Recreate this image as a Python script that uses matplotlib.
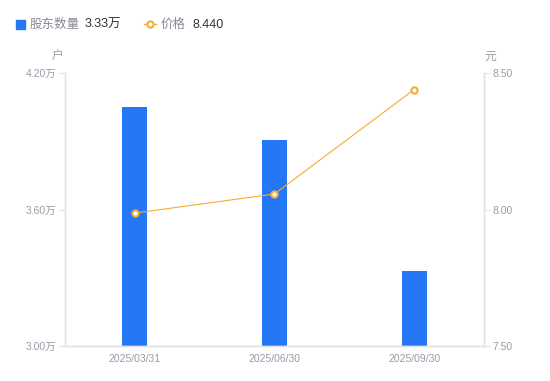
import matplotlib.pyplot as plt
import numpy as np

plt.rcParams['font.family'] = ['Liberation Sans', 'Noto Sans CJK SC']

dates = ['2025/03/31', '2025/06/30', '2025/09/30']
holders = [4.05, 3.905, 3.33]   # 万户
price = [7.987, 8.057, 8.440]   # 元

BLUE = '#2477f5'
ORANGE = '#f5ad2f'
GRID = '#e3e3e8'
LABEL = '#9a9aa8'

fig = plt.figure(figsize=(5.5, 3.81), dpi=100)
ax = fig.add_axes([0.118, 0.092, 0.762, 0.716])
ax2 = ax.twinx()

x = np.arange(len(dates))
ax.bar(x, holders, width=0.18, color=BLUE, zorder=2)
ax.set_xlim(-0.5, len(dates) - 0.5)
ax.set_ylim(3.0, 4.2)
ax.set_yticks([3.0, 3.6, 4.2])
ax.set_yticklabels([f'{v:.2f}万' for v in [3.0, 3.6, 4.2]])
ax.set_xticks(x)
ax.set_xticklabels(dates)

ax2.plot(x, price, color=ORANGE, lw=0.8, marker='o', ms=4.5,
         mfc='white', mec=ORANGE, mew=1.5, zorder=3)
ax2.set_ylim(7.5, 8.5)
ax2.set_yticks([7.5, 8.0, 8.5])
ax2.set_yticklabels([f'{v:.2f}' for v in [7.5, 8.0, 8.5]])

for a in (ax, ax2):
    a.spines['top'].set_visible(False)
    for s in ('left', 'right', 'bottom'):
        a.spines[s].set_color(GRID)
        a.spines[s].set_linewidth(1)
    a.tick_params(colors=GRID, labelcolor=LABEL, labelsize=7.5, length=4, width=0.8)
ax.tick_params(axis='x', length=0, pad=6)
ax.tick_params(axis='y', pad=2)
ax2.tick_params(axis='y', pad=2)

# 单位
fig.text(58 / 550, 1 - 57 / 381, '户', color=LABEL, fontsize=8.5, ha='center', va='center')
fig.text(490 / 550, 1 - 57 / 381, '元', color=LABEL, fontsize=8.5, ha='center', va='center')

# 图例
y_leg = 1 - 24 / 381
y_txt = 1 - 28 / 381
fig.patches.append(plt.Rectangle((16 / 550, y_leg - 4.5 / 381), 9 / 550, 9 / 381,
                                 transform=fig.transFigure, color=BLUE, figure=fig))
fig.text(30 / 550, y_txt, '股东数量', color='#8a8a98', fontsize=9, va='baseline')
fig.text(85 / 550, y_txt, f'{holders[-1]:.2f}万', color='#333333', fontsize=9, va='baseline')
fig.lines.append(plt.Line2D([144 / 550, 156 / 550], [y_leg, y_leg], transform=fig.transFigure,
                            color=ORANGE, lw=1, figure=fig))
fig.lines.append(plt.Line2D([150 / 550], [y_leg], transform=fig.transFigure, color=ORANGE,
                            marker='o', ms=4.5, mfc='white', mec=ORANGE, mew=1.5, figure=fig))
fig.text(161 / 550, y_txt, '价格', color='#8a8a98', fontsize=9, va='baseline')
fig.text(192 / 550, y_txt, f'{price[-1]:.3f}', color='#333333', fontsize=9, va='baseline')

fig.savefig('out.png', dpi=100)
